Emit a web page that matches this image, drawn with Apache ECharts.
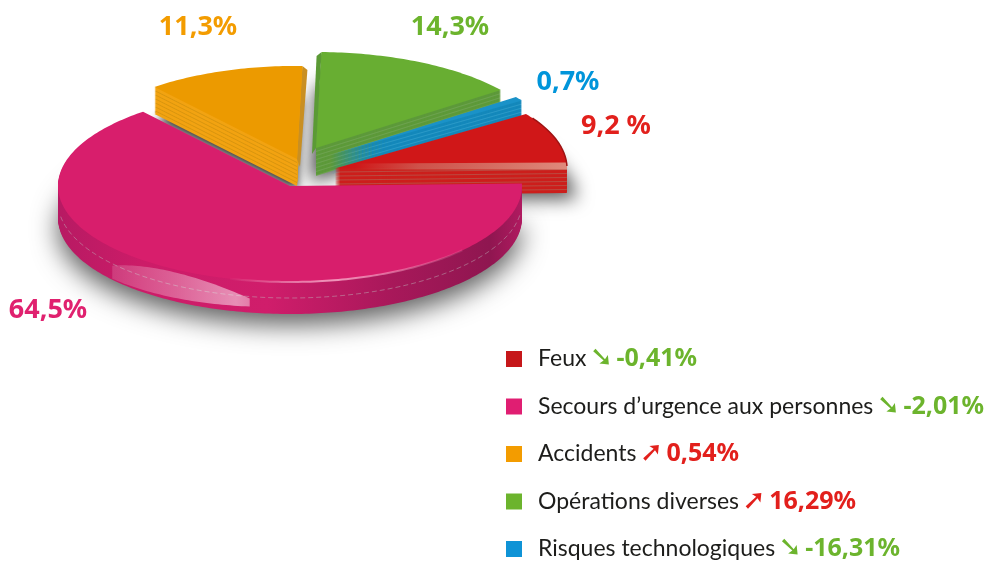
<!DOCTYPE html>
<html><head><meta charset="utf-8">
<style>html,body{margin:0;padding:0;background:#fff}#c{width:989px;height:563px}</style>
<script src="https://cdn.jsdelivr.net/npm/echarts@6/dist/echarts.min.js"></script>
</head><body><div id="c"></div>
<script>
// ---- chart data ----
const categories = ['Feux', "Secours d\u2019urgence aux personnes", 'Accidents', 'Opérations diverses', 'Risques technologiques'];
const shares = [9.2, 64.5, 11.3, 14.3, 0.7];
const shareLabels = ['9,2 %', '64,5%', '11,3%', '14,3%', '0,7%'];
const changes = ['-0,41%', '-2,01%', '0,54%', '16,29%', '-16,31%'];
const trends = ['down', 'down', 'up', 'up', 'down'];
// ---- appearance ----
const pieOrder = [1, 2, 3, 4, 0];           // clockwise from the east
const startAngle = -1.5;
const look = [
  {c:[335,168.5], rx:232, depth:27, face:'#d01718', wall:'#cc1f1c', band:'#bb4a40', label:'#e2201c', sq:'#c6171a', at:[616,126], z:6, shadow:.65, sx:9, sy:8, blur:18},
  {c:[290,186],   rx:232, depth:32, face:'#d81e6c', wall:null,      band:null,      label:'#e0216f', sq:'#e01e72', at:[48,310],  z:7, shadow:.62, sx:0, sy:13, blur:26},
  {c:[297,159],   rx:225, depth:27, face:'#ec9a00', wall:'#f2a312', band:'#d8950f', label:'#f39c00', sq:'#f39c00', at:[198,27],  z:4, shadow:.75, sx:0, sy:8, blur:10},
  {c:[316,148],   rx:232, depth:28, face:'#68ae32', wall:'#5d9a3a', band:'#6ea350', label:'#6cb42d', sq:'#6cb42d', at:[450,27],  z:3, shadow:.7, sx:-6, sy:8, blur:18},
  {c:[331,155],   rx:232, depth:19, face:'#1a92c8', wall:'#1488bb', band:'#2b9ac8', label:'#0095da', sq:'#0f93d6', at:[568,82],  z:5, shadow:0, sx:0, sy:0, blur:0}
];
const ratio = 96 / 232;
const percentFont = '"Noto Sans"';
const nameFont = 'Lato';
const trendColor = {down:'#6cb42d', up:'#e2201c'};
const trendGlyph = {down:'\u2798', up:'\u279A'};

const total = shares.reduce((a, b) => a + b, 0);
const angles = {};
let run = startAngle;
pieOrder.forEach(i => { const s = run; run += shares[i] / total * 360; angles[i] = [s, run]; });

const rad = d => d * Math.PI / 180;
function arc(cx, cy, rx, a0, a1, dy) {
  const pts = [], n = Math.max(2, Math.ceil(Math.abs(a1 - a0)));
  for (let k = 0; k <= n; k++) {
    const a = rad(a0 + (a1 - a0) * k / n);
    pts.push([cx + rx * Math.cos(a), cy + rx * ratio * Math.sin(a) + (dy || 0)]);
  }
  return pts;
}
const wedge = (l, a, dy) => [[l.c[0], l.c[1] + (dy || 0)]].concat(arc(l.c[0], l.c[1], l.rx, a[0], a[1], dy));
const grad = (stops) => new echarts.graphic.LinearGradient(0, 0, 1, 0, stops.map(s => ({offset:s[0], color:s[1]})));
const silent = el => Object.assign(el, {silent:true});

function pieceFor(i) {
  const l = look[i], a = angles[i], kids = [];
  const magentaWall = grad([[0,'#b71a63'],[.18,'#cc1c68'],[.45,'#d01d6b'],[.72,'#a8185a'],[.93,'#8f1650'],[1,'#b01a60']]);
  // drop shadow under the slice
  if (l.shadow) kids.push({type:'polygon', z2:1, shape:{points:wedge(l, a, l.depth - 2)},
    style:{fill:'#999', shadowBlur:l.blur, shadowColor:'rgba(0,0,0,' + l.shadow + ')', shadowOffsetX:l.sx, shadowOffsetY:l.sy}});
  // wall, stacked downward in thin bands
  for (let d = l.depth; d >= 1; d--) {
    const fill = l.wall ? (d % 4 === 0 ? l.band : l.wall) : magentaWall;
    kids.push({type:'polygon', z2:2, shape:{points:wedge(l, a, d)}, style:{fill}});
  }
  // side strips for the split slices
  if (i === 2) {
    const e = arc(l.c[0], l.c[1], l.rx, a[1], a[1], 0)[0];
    kids.push({type:'polygon', z2:3, shape:{points:[[l.c[0], l.c[1]], e, [e[0] + 5, e[1] + 4], [l.c[0] + 3, l.c[1] + 8]]}, style:{fill:'#c98f22'}});
  }
  if (i === 3) {
    const e = arc(l.c[0], l.c[1], l.rx, a[0], a[0], 0)[0];
    kids.push({type:'polygon', z2:3, shape:{points:[[l.c[0], l.c[1]], e, [e[0] - 5, e[1] + 4], [l.c[0] - 4, l.c[1] + 6]]}, style:{fill:'#5b9a35'}});
  }
  // top face
  kids.push({type:'polygon', z2:4, shape:{points:wedge(l, a)}, style:{fill:l.face}});
  if (i === 0) {
    kids.push({type:'polygon', z2:5, shape:{points:[[l.c[0] + 20, l.c[1] - 5], [l.c[0] + l.rx, l.c[1] - 6], [l.c[0] + l.rx, l.c[1] + 1], [l.c[0] + 20, l.c[1] + 1]]},
      style:{fill:grad([[0,'rgba(205,130,115,0)'],[.3,'rgba(205,130,115,.55)'],[1,'rgba(225,150,135,.9)']])}});
    kids.push({type:'polyline', z2:5, shape:{points:arc(l.c[0], l.c[1], l.rx, a[0] + 3, a[1], 0)}, style:{stroke:'#9e1414', lineWidth:1.5, fill:null}});
  }
  if (i === 1) {
    kids.push({type:'polyline', z2:5, shape:{points:arc(l.c[0], l.c[1], l.rx, 42, 105, 0)},
      style:{fill:null, lineWidth:2, stroke:grad([[0,'rgba(255,255,255,0)'],[.45,'rgba(255,190,215,.75)'],[1,'rgba(255,190,215,.1)']])}});
    kids.push({type:'polyline', z2:5, shape:{points:arc(l.c[0], l.c[1], l.rx, 8, 172, 16)},
      style:{fill:null, lineWidth:1, stroke:'rgba(190,190,190,.45)', lineDash:[5, 3]}});
    // gloss on the front edge: a band that follows the rim
    const lower = [], upper = [];
    for (let k = 0; k <= 40; k++) {
      const t = k / 40, ang = 140 - 40 * t;
      lower.push(arc(l.c[0], l.c[1], l.rx, ang, ang, 31 - 5 * t)[0]);
      upper.push(arc(l.c[0], l.c[1], l.rx, ang, ang, 3 + 15 * Math.pow(2 * t - 1, 2))[0]);
    }
    kids.push({type:'polygon', z2:6, shape:{points:upper.concat(lower.reverse())},
      style:{fill:grad([[0,'rgba(255,255,255,.14)'],[.45,'rgba(255,255,255,.3)'],[.9,'rgba(255,255,255,.5)'],[1,'rgba(255,255,255,.42)']])}});
  }
  // percentage label
  kids.push({type:'text', z2:20, style:{x:l.at[0], y:l.at[1], text:shareLabels[i], fill:l.label,
    font:'bold 27px ' + percentFont, textAlign:'center', textVerticalAlign:'middle'}});
  return {type:'group', children:kids.map(silent)};
}

const rich = {
  n:{fontFamily:nameFont, fontSize:23, color:'#1d1d1b', lineHeight:28},
  down:{fontFamily:'"DejaVu Sans"', fontSize:28, color:trendColor.down, lineHeight:28},
  up:{fontFamily:'"DejaVu Sans"', fontSize:28, color:trendColor.up, lineHeight:28},
  pdown:{fontFamily:percentFont, fontWeight:'bold', fontSize:25, color:trendColor.down, lineHeight:28},
  pup:{fontFamily:percentFont, fontWeight:'bold', fontSize:25, color:trendColor.up, lineHeight:28}
};

const chart = echarts.init(document.getElementById('c'), null, {renderer:'canvas'});
chart.setOption({
  animation:false,
  backgroundColor:'#fff',
  legend:{
    orient:'vertical', left:506, top:345, padding:0, itemWidth:16, itemHeight:16, itemGap:19.5,
    icon:'rect', selectedMode:false, align:'left',
    data:categories.map((name, i) => ({name, itemStyle:{color:look[i].sq}})),
    textStyle:{rich, padding:[0,0,0,11]},
    formatter:name => {
      const i = categories.indexOf(name), t = trends[i];
      return '{n|' + name + '} {' + t + '|' + trendGlyph[t] + '} {p' + t + '|' + changes[i] + '}';
    }
  },
  series:categories.map((name, i) => ({
    type:'custom', name, coordinateSystem:'none', silent:true, z:look[i].z,
    itemStyle:{color:look[i].sq},
    data:[[shares[i]]],
    renderItem:() => pieceFor(i)
  }))
});
</script></body></html>
